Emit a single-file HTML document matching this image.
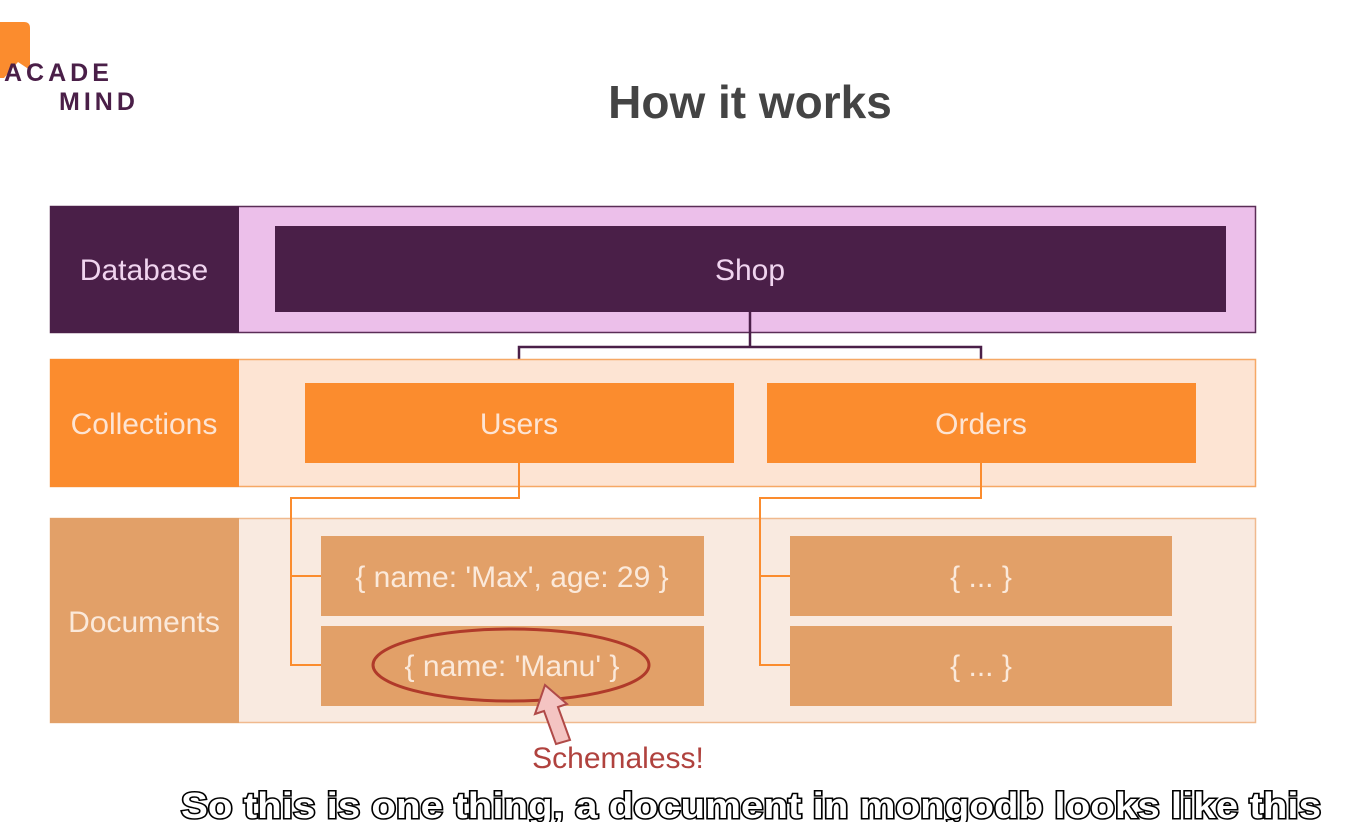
<!DOCTYPE html>
<html><head><meta charset="utf-8"><style>
html,body{margin:0;padding:0;background:#fff;width:1369px;height:822px;overflow:hidden}
svg{display:block}
text{font-family:"Liberation Sans",sans-serif}
</style></head><body>
<svg width="1369" height="822" viewBox="0 0 1369 822" xmlns="http://www.w3.org/2000/svg">
<!-- logo -->
<path d="M0 22 H24 Q30 22 30 28 V70 L18 62 L4 78 H0 Z" fill="#fb8c2e"/>
<text x="4" y="81" font-size="25" font-weight="bold" fill="#4a1f48" letter-spacing="4">ACADE</text>
<text x="59" y="110" font-size="25" font-weight="bold" fill="#4a1f48" letter-spacing="4">MIND</text>
<text x="750" y="118" font-size="46" font-weight="bold" fill="#444" text-anchor="middle">How it works</text>

<!-- Database row -->
<rect x="50.5" y="206.5" width="1205" height="126" fill="#ecbfea" stroke="#5a2d57" stroke-width="1.5"/>
<rect x="50" y="206" width="189" height="127" fill="#4a1f48"/>
<text x="144" y="280" font-size="30" fill="#f0d4ef" text-anchor="middle">Database</text>
<rect x="275" y="226" width="951" height="86" fill="#4a1f48"/>
<text x="750" y="280" font-size="30" fill="#f0d4ef" text-anchor="middle">Shop</text>
<path d="M750 312 V347 M519 383 V347 H981 V383" fill="none" stroke="#4a1f48" stroke-width="2.5"/>

<!-- Collections row -->
<rect x="50.5" y="359.5" width="1205" height="127" fill="#fde4d3" stroke="#f6a865" stroke-width="1.5"/>
<rect x="50" y="359" width="189" height="128" fill="#fb8c2e"/>
<text x="144" y="434" font-size="30" fill="#fde4d3" text-anchor="middle">Collections</text>
<rect x="305" y="383" width="429" height="80" fill="#fb8c2e"/>
<text x="519" y="434" font-size="30" fill="#fde4d3" text-anchor="middle">Users</text>
<rect x="767" y="383" width="429" height="80" fill="#fb8c2e"/>
<text x="981" y="434" font-size="30" fill="#fde4d3" text-anchor="middle">Orders</text>

<!-- Documents row -->
<rect x="50.5" y="518.5" width="1205" height="204" fill="#f9eae0" stroke="#f0b98e" stroke-width="1.5"/>
<rect x="50" y="518" width="189" height="205" fill="#e2a068"/>
<text x="144" y="632" font-size="30" fill="#fbe9da" text-anchor="middle">Documents</text>
<rect x="321" y="536" width="383" height="80" fill="#e2a068"/>
<text x="512" y="587" font-size="30" fill="#fbe9da" text-anchor="middle">{ name: 'Max', age: 29 }</text>
<rect x="321" y="626" width="383" height="80" fill="#e2a068"/>
<text x="512" y="676" font-size="30" fill="#fbe9da" text-anchor="middle">{ name: 'Manu' }</text>
<rect x="790" y="536" width="382" height="80" fill="#e2a068"/>
<text x="981" y="587" font-size="30" fill="#fbe9da" text-anchor="middle">{ ... }</text>
<rect x="790" y="626" width="382" height="80" fill="#e2a068"/>
<text x="981" y="676" font-size="30" fill="#fbe9da" text-anchor="middle">{ ... }</text>
<path d="M519 463 V498 H291 V665 H321 M291 576 H321 M981 463 V498 H760 V665 H790 M760 576 H790" fill="none" stroke="#fb8c2e" stroke-width="2"/>

<!-- ellipse + arrow -->
<ellipse cx="511" cy="665" rx="138" ry="36" fill="none" stroke="#b03a2a" stroke-width="3"/>
<path d="M545 685 L567 704 L558 707 L570 740 L556 744 L544 711 L535 714 Z" fill="#f4c4c2" stroke="#b04a48" stroke-width="2"/>
<text x="618" y="768" font-size="30" fill="#b0423e" text-anchor="middle">Schemaless!</text>

<!-- subtitle -->
<text x="751" y="818" font-size="36" font-weight="bold" fill="#fff" stroke="#000" stroke-width="3" paint-order="stroke" text-anchor="middle" textLength="1140" lengthAdjust="spacingAndGlyphs">So this is one thing, a document in mongodb looks like this</text>
</svg>
</body></html>
